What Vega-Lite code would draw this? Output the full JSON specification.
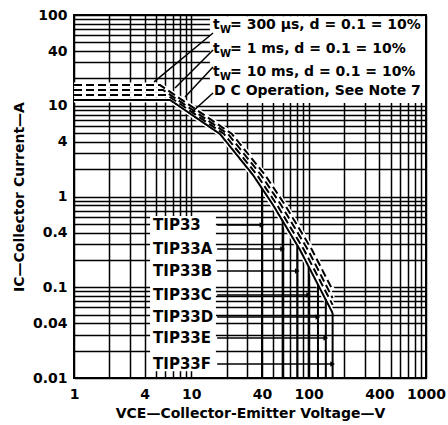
{
  "$schema": "https://vega.github.io/schema/vega-lite/v6.json",
  "autosize": {"type": "none"},
  "padding": {"left": 74, "top": 15, "right": 22, "bottom": 47},
  "width": 352,
  "height": 363,
  "background": "white",
  "config": {
    "view": {"stroke": "black", "strokeWidth": 2},
    "font": "DejaVu Sans",
    "text": {"font": "DejaVu Sans", "fontWeight": "bold", "color": "black"}
  },
  "datasets": {
    "curves": [
      {"series": "DC", "V": 1, "I": 11.6},
      {"series": "DC", "V": 6.58, "I": 11.6},
      {"series": "DC", "V": 17.56, "I": 4.88},
      {"series": "DC", "V": 33.57, "I": 1.725},
      {"series": "DC", "V": 49.71, "I": 0.806},
      {"series": "DC", "V": 84.49, "I": 0.257},
      {"series": "DC", "V": 160, "I": 0.052},
      {"series": "10ms", "V": 1, "I": 13.1},
      {"series": "10ms", "V": 6.21, "I": 13.1},
      {"series": "10ms", "V": 19.0, "I": 4.88},
      {"series": "10ms", "V": 36.3, "I": 1.725},
      {"series": "10ms", "V": 53.8, "I": 0.806},
      {"series": "10ms", "V": 91.4, "I": 0.257},
      {"series": "10ms", "V": 160, "I": 0.064},
      {"series": "1ms", "V": 1, "I": 14.9},
      {"series": "1ms", "V": 5.74, "I": 14.9},
      {"series": "1ms", "V": 20.55, "I": 4.88},
      {"series": "1ms", "V": 39.3, "I": 1.725},
      {"series": "1ms", "V": 58.2, "I": 0.806},
      {"series": "1ms", "V": 98.8, "I": 0.257},
      {"series": "1ms", "V": 160, "I": 0.076},
      {"series": "300us", "V": 1, "I": 16.9},
      {"series": "300us", "V": 5.41, "I": 16.9},
      {"series": "300us", "V": 22.2, "I": 4.88},
      {"series": "300us", "V": 42.5, "I": 1.725},
      {"series": "300us", "V": 62.9, "I": 0.806},
      {"series": "300us", "V": 106.9, "I": 0.257},
      {"series": "300us", "V": 160, "I": 0.093}
    ],
    "devices": [
      {"dev": "TIP33", "V": 40, "Itop": 1.23, "Ilab": 0.485, "Vs": 16.6, "Vl": 4.72, "Ib": 0.01},
      {"dev": "TIP33A", "V": 60, "Itop": 0.538, "Ilab": 0.264, "Vs": 16.6, "Vl": 4.72, "Ib": 0.01},
      {"dev": "TIP33B", "V": 80, "Itop": 0.289, "Ilab": 0.151, "Vs": 16.6, "Vl": 4.72, "Ib": 0.01},
      {"dev": "TIP33C", "V": 100, "Itop": 0.17, "Ilab": 0.0821, "Vs": 16.6, "Vl": 4.72, "Ib": 0.01},
      {"dev": "TIP33D", "V": 120, "Itop": 0.108, "Ilab": 0.047, "Vs": 16.6, "Vl": 4.72, "Ib": 0.01},
      {"dev": "TIP33E", "V": 140, "Itop": 0.074, "Ilab": 0.0276, "Vs": 16.6, "Vl": 4.72, "Ib": 0.01},
      {"dev": "TIP33F", "V": 160, "Itop": 0.052, "Ilab": 0.01427, "Vs": 16.6, "Vl": 4.72, "Ib": 0.01}
    ],
    "boxes": [
      {"V": 14.4, "V2": 980, "I": 10.7, "I2": 97},
      {"V": 4.45, "V2": 16.2, "I": 0.0119, "I2": 0.61}
    ],
    "leaders": [
      {"V": 15.31, "I": 63.4, "V2": 4.81, "I2": 18.3},
      {"V": 15.31, "I": 41.2, "V2": 7.26, "I2": 15.7},
      {"V": 15.31, "I": 26.7, "V2": 8.84, "I2": 12.5},
      {"V": 15.31, "I": 13.8, "V2": 10.14, "I2": 8.53}
    ],
    "notes": [
      {"V": 15.31, "I": 77.6, "rest": " = 300 µs, d = 0.1 = 10%"},
      {"V": 15.31, "I": 42.2, "rest": " = 1 ms, d = 0.1 = 10%"},
      {"V": 15.31, "I": 23.5, "rest": " = 10 ms, d = 0.1 = 10%"}
    ],
    "dcnote": [
      {"V": 15.6, "I": 14.5, "label": "D C Operation, See Note 7"}
    ]
  },
  "layer": [
    {
      "data": {"name": "boxes"},
      "mark": {"type": "rect", "color": "white"},
      "encoding": {
        "x": {
          "field": "V", "type": "quantitative",
          "scale": {"type": "log", "domain": [1, 1000], "nice": false},
          "axis": {
            "values": [1,2,3,4,5,6,7,8,9,10,20,30,40,50,60,70,80,90,100,200,300,400,500,600,700,800,900,1000],
            "labelExpr": "indexof([1,4,10,40,100,400,1000], datum.value) >= 0 ? '' + datum.value : ''",
            "ticks": false, "domain": false, "grid": true,
            "gridColor": "black", "gridWidth": 1.5, "gridOpacity": 1,
            "labelFont": "DejaVu Sans", "labelFontWeight": "bold", "labelFontSize": 14, "labelColor": "black",
            "labelPadding": 9, "labelOverlap": false, "labelFlush": false,
            "title": "VCE—Collector-Emitter Voltage—V",
            "titleFont": "DejaVu Sans", "titleFontWeight": "bold", "titleFontSize": 14, "titleColor": "black",
            "titlePadding": 5
          }
        },
        "x2": {"field": "V2"},
        "y": {
          "field": "I", "type": "quantitative",
          "scale": {"type": "log", "domain": [0.01, 100], "nice": false},
          "axis": {
            "values": [0.01,0.02,0.03,0.04,0.05,0.06,0.07,0.08,0.09,0.1,0.2,0.3,0.4,0.5,0.6,0.7,0.8,0.9,1,2,3,4,5,6,7,8,9,10,20,30,40,50,60,70,80,90,100],
            "labelExpr": "indexof([0.01,0.04,0.1,0.4,1,4,10,40,100], datum.value) >= 0 ? '' + datum.value : ''",
            "ticks": false, "domain": false, "grid": true,
            "gridColor": "black", "gridWidth": 1.5, "gridOpacity": 1,
            "labelFont": "DejaVu Sans", "labelFontWeight": "bold", "labelFontSize": 14, "labelColor": "black",
            "labelPadding": 7, "labelOverlap": false, "labelFlush": false,
            "title": "IC—Collector Current—A",
            "titleFont": "DejaVu Sans", "titleFontWeight": "bold", "titleFontSize": 14, "titleColor": "black",
            "titlePadding": 6
          }
        },
        "y2": {"field": "I2"}
      }
    },
    {
      "data": {"name": "curves"},
      "mark": {"type": "line", "color": "white", "strokeWidth": 5},
      "encoding": {
        "x": {"field": "V", "type": "quantitative"},
        "y": {"field": "I", "type": "quantitative"},
        "detail": {"field": "series", "type": "nominal"}
      }
    },
    {
      "data": {"name": "curves"},
      "mark": {"type": "line", "color": "black", "strokeWidth": 2},
      "encoding": {
        "x": {"field": "V", "type": "quantitative"},
        "y": {"field": "I", "type": "quantitative"},
        "detail": {"field": "series", "type": "nominal"},
        "strokeDash": {
          "field": "series", "type": "nominal",
          "scale": {"domain": ["DC", "10ms", "1ms", "300us"], "range": [[1, 0], [8, 4], [8, 4], [8, 4]]},
          "legend": null
        }
      }
    },
    {
      "data": {"name": "devices"},
      "mark": {"type": "rule", "color": "black", "strokeWidth": 2},
      "encoding": {
        "x": {"field": "V", "type": "quantitative"},
        "y": {"field": "Itop", "type": "quantitative"},
        "y2": {"field": "Ib"}
      }
    },
    {
      "data": {"name": "devices"},
      "mark": {"type": "rule", "color": "black", "strokeWidth": 1.3},
      "encoding": {
        "x": {"field": "Vs", "type": "quantitative"},
        "x2": {"field": "V"},
        "y": {"field": "Ilab", "type": "quantitative"}
      }
    },
    {
      "data": {"name": "devices"},
      "mark": {"type": "point", "shape": "triangle-right", "filled": true, "color": "black", "size": 30, "opacity": 1},
      "encoding": {
        "x": {"field": "V", "type": "quantitative"},
        "y": {"field": "Ilab", "type": "quantitative"}
      }
    },
    {
      "data": {"name": "devices"},
      "mark": {"type": "text", "align": "left", "baseline": "middle", "fontSize": 15},
      "encoding": {
        "x": {"field": "Vl", "type": "quantitative"},
        "y": {"field": "Ilab", "type": "quantitative"},
        "text": {"field": "dev", "type": "nominal"}
      }
    },
    {
      "data": {"name": "leaders"},
      "mark": {"type": "rule", "color": "black", "strokeWidth": 1.5},
      "encoding": {
        "x": {"field": "V", "type": "quantitative"},
        "x2": {"field": "V2"},
        "y": {"field": "I", "type": "quantitative"},
        "y2": {"field": "I2"}
      }
    },
    {
      "data": {"name": "notes"},
      "mark": {"type": "text", "align": "left", "baseline": "middle", "fontSize": 14, "text": "t"},
      "encoding": {
        "x": {"field": "V", "type": "quantitative"},
        "y": {"field": "I", "type": "quantitative"}
      }
    },
    {
      "data": {"name": "notes"},
      "mark": {"type": "text", "align": "left", "baseline": "middle", "fontSize": 10, "dx": 7, "dy": 5, "text": "W"},
      "encoding": {
        "x": {"field": "V", "type": "quantitative"},
        "y": {"field": "I", "type": "quantitative"}
      }
    },
    {
      "data": {"name": "notes"},
      "mark": {"type": "text", "align": "left", "baseline": "middle", "fontSize": 14, "dx": 17},
      "encoding": {
        "x": {"field": "V", "type": "quantitative"},
        "y": {"field": "I", "type": "quantitative"},
        "text": {"field": "rest", "type": "nominal"}
      }
    },
    {
      "data": {"name": "dcnote"},
      "mark": {"type": "text", "align": "left", "baseline": "middle", "fontSize": 14},
      "encoding": {
        "x": {"field": "V", "type": "quantitative"},
        "y": {"field": "I", "type": "quantitative"},
        "text": {"field": "label", "type": "nominal"}
      }
    }
  ]
}
